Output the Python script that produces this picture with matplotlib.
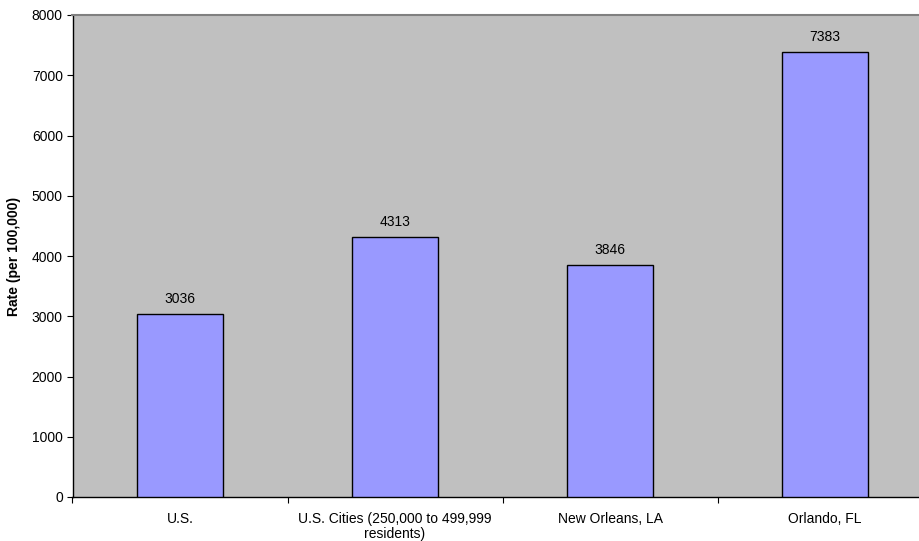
import matplotlib.pyplot as plt
import numpy as np

plt.rcParams['font.family'] = ['Liberation Sans', 'DejaVu Sans']

categories = ['U.S.', 'U.S. Cities (250,000 to 499,999\nresidents)',
              'New Orleans, LA', 'Orlando, FL']
rates = [3036, 4313, 3846, 7383]

fig = plt.figure(figsize=(9.19, 5.41), dpi=100)
# plot area runs past the right edge of the picture, as in the original
ax = fig.add_axes([72.5 / 919, 44 / 541, 860 / 919, 482 / 541])
ax.set_facecolor('#C0C0C0')

x = np.arange(len(categories))
ax.bar(x, rates, width=0.4, color='#9999FF', edgecolor='black', linewidth=1, zorder=3)
for xi, v in zip(x, rates):
    ax.annotate(str(v), (xi, v), xytext=(0, 6), textcoords='offset points',
                ha='center', va='bottom', fontsize=10)

ax.set_xlim(-0.5, len(categories) - 0.5)
ax.set_ylim(0, 8000)
ax.set_yticks(range(0, 8001, 1000))
ax.set_xticks(np.arange(-0.5, len(categories), 1.0))
ax.set_xticklabels([])
ax.set_xticks(x, minor=True)
ax.set_xticklabels(categories, minor=True, fontsize=10, linespacing=1.05)
ax.tick_params(axis='x', which='minor', length=0, pad=11)
ax.tick_params(axis='x', which='major', length=4, direction='out')
ax.tick_params(axis='y', length=4, direction='out', labelsize=10, pad=3)

ax.set_ylabel('Rate (per 100,000)', fontsize=10, fontweight='bold', labelpad=8)

for s in ['left', 'bottom']:
    ax.spines[s].set_color('black')
    ax.spines[s].set_linewidth(1)
ax.spines['top'].set_color('#808080')
ax.spines['top'].set_linewidth(1.5)
ax.spines['right'].set_visible(False)

fig.savefig('out.png', dpi=100)
